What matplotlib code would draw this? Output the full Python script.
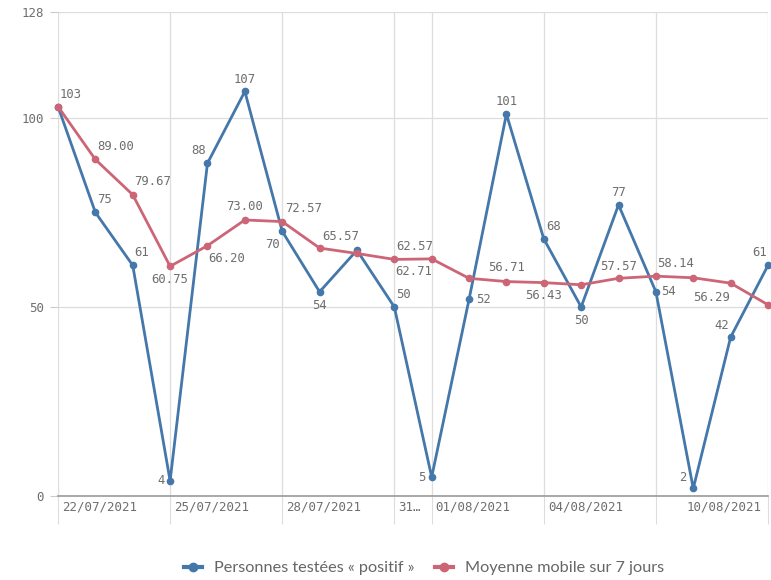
import matplotlib
matplotlib.use("Agg")
import matplotlib.pyplot as plt
import matplotlib.transforms as mtrans
from matplotlib.lines import Line2D

dates = ["22/07/2021", "23/07/2021", "24/07/2021", "25/07/2021", "26/07/2021",
         "27/07/2021", "28/07/2021", "29/07/2021", "30/07/2021", "31/07/2021",
         "01/08/2021", "02/08/2021", "03/08/2021", "04/08/2021", "05/08/2021",
         "06/08/2021", "07/08/2021", "08/08/2021", "09/08/2021", "10/08/2021"]
positifs = [103, 75, 61, 4, 88, 107, 70, 54, 65, 50, 5, 52, 101, 68, 50, 77, 54, 2, 42, 61]
moyenne = [103.00, 89.00, 79.67, 60.75, 66.20, 73.00, 72.57, 65.57, 64.14, 62.57,
           62.71, 57.57, 56.71, 56.43, 55.86, 57.57, 58.14, 57.71, 56.29, 50.57]
# which data labels are shown (others hidden by overlap in the original)
show_pos = [True] * 8 + [False] + [True] * 11
show_moy = [False, True, True, True, True, True, True, True, False, True,
            True, False, True, True, False, True, True, False, True, False]
tick_idx = [0, 3, 6, 9, 10, 13, 16, 19]
tick_labels = ["22/07/2021", "25/07/2021", "28/07/2021", "31…", "01/08/2021",
               "04/08/2021", "", "10/08/2021"]
yticks = [0, 50, 100, 128]
series_names = ["Personnes testées « positif »", "Moyenne mobile sur 7 jours"]

# label placement: offset in pixels (dx, dy up), horizontal alignment
pos_off = [(2, 12, 'left'), (2, 13, 'left'), (2, 13, 'left'), (-5, 0, 'right'),
           (-1, 13, 'right'), (0, 12, 'center'), (-2, -13, 'right'), (0, -14, 'center'),
           (0, 0, 'center'), (2, 12, 'left'), (-6, 0, 'right'), (7, 0, 'left'),
           (0, 13, 'center'), (2, 12, 'left'), (0, -14, 'center'), (0, 12, 'center'),
           (5, 0, 'left'), (-7, 11, 'right'), (-1, 12, 'right'), (-1, 13, 'right')]
moy_off = [(0, 0, 'center'), (2, 13, 'left'), (1, 13, 'left'), (0, -13, 'center'),
           (1, -13, 'left'), (0, 13, 'center'), (3, 13, 'left'), (3, 12, 'left'),
           (0, 0, 'center'), (2, 13, 'left'), (0, -13, 'right'), (0, 0, 'center'),
           (0, 14, 'center'), (0, -13, 'center'), (0, 0, 'center'), (0, 12, 'center'),
           (1, 13, 'left'), (0, 0, 'center'), (-1, -14, 'right'), (0, 0, 'center')]

BLUE = "#4477aa"
RED = "#cc6677"
GRAY = "#6e6e6e"
PX = 0.72  # points per pixel at 100 dpi

fig = plt.figure(figsize=(7.71, 5.80), dpi=100)
ax = fig.add_axes([58 / 771, 84 / 580, 710 / 771, 484 / 580])

x = list(range(len(dates)))
ax.plot(x, positifs, color=BLUE, lw=2, marker='o', ms=4.5, zorder=3, clip_on=False)
ax.plot(x, moyenne, color=RED, lw=2, marker='o', ms=4.5, zorder=4, clip_on=False)

mono = "DejaVu Sans Mono"
for i in x:
    if show_pos[i]:
        dx, dy, ha = pos_off[i]
        ax.annotate(str(positifs[i]), (i, positifs[i]), xytext=(dx * PX, dy * PX),
                    textcoords='offset points', ha=ha, va='center',
                    fontsize=8.8, family=mono, color=GRAY, zorder=5)
    if show_moy[i]:
        dx, dy, ha = moy_off[i]
        ax.annotate(f"{moyenne[i]:.2f}", (i, moyenne[i]), xytext=(dx * PX, dy * PX),
                    textcoords='offset points', ha=ha, va='center',
                    fontsize=8.8, family=mono, color=GRAY, zorder=5)

ax.set_xlim(0, len(dates) - 1)
ax.set_ylim(0, 128)
ax.set_yticks(yticks)
ax.set_yticklabels([str(v) for v in yticks], family=mono, fontsize=9, color=GRAY)
ax.set_xticks(tick_idx)
ax.set_xticklabels(tick_labels, family=mono, fontsize=9, color=GRAY)
ax.tick_params(axis='x', direction='out', length=20, width=0.8, color="#dddddd", pad=-16.5)
offset_l = mtrans.ScaledTranslation(4 / 100, 0, fig.dpi_scale_trans)
offset_r = mtrans.ScaledTranslation(-6 / 100, 0, fig.dpi_scale_trans)
for lbl, i in zip(ax.get_xticklabels(), tick_idx):
    if i == tick_idx[-1]:
        lbl.set_ha('right')
        lbl.set_transform(lbl.get_transform() + offset_r)
    else:
        lbl.set_ha('left')
        lbl.set_transform(lbl.get_transform() + offset_l)
ax.tick_params(axis='y', direction='out', length=6, width=0.8, color="#cccccc", pad=4)

ax.grid(True, color="#dddddd", lw=0.9)
ax.set_axisbelow(True)
for s in ['top', 'right', 'left']:
    ax.spines[s].set_visible(False)
ax.spines['bottom'].set_color("#999999")
ax.spines['bottom'].set_linewidth(1.2)

handles = [Line2D([], [], color=BLUE, lw=3, marker='o', ms=6),
           Line2D([], [], color=RED, lw=3, marker='o', ms=6)]
fig.legend(handles, series_names, loc='center', bbox_to_anchor=(0.55, 12 / 580),
           ncol=2, frameon=False, handlelength=1.1, handletextpad=0.7, columnspacing=1.3,
           prop={'family': 'Lato', 'size': 11.7}, labelcolor="#666666")

fig.savefig("out.png", dpi=100)
